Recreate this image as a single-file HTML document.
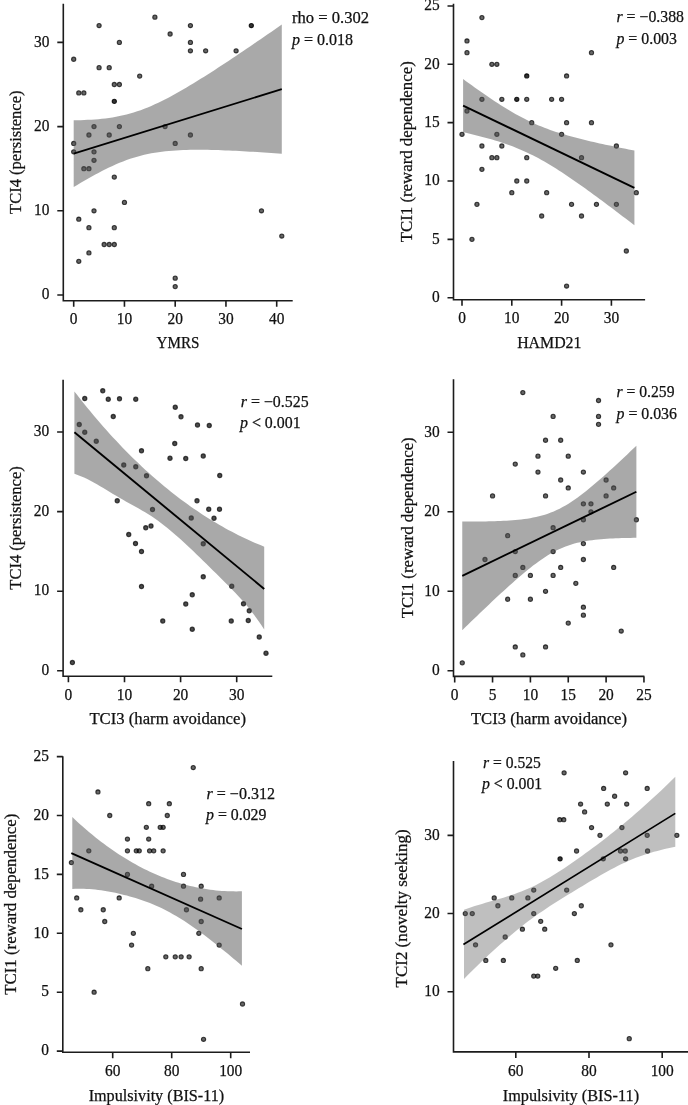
<!DOCTYPE html><html><head><meta charset="utf-8"><title>Figure</title><style>html,body{margin:0;padding:0;background:#fff}svg{display:block}text{stroke:#111;stroke-width:.25px}</style></head><body>
<svg width="688" height="1105" viewBox="0 0 688 1105" font-family='"Liberation Serif", serif' font-size="16" fill="#111">
<rect width="688" height="1105" fill="#fff"/>
<g fill="#000" fill-opacity="0.6" stroke="#000" stroke-opacity="0.72" stroke-width="1.1"><circle cx="73.7" cy="59.24" r="2.1"/><circle cx="99.08" cy="25.56" r="2.1"/><circle cx="154.9" cy="17.14" r="2.1"/><circle cx="170.12" cy="33.98" r="2.1"/><circle cx="190.43" cy="25.56" r="2.1"/><circle cx="190.43" cy="42.4" r="2.1"/><circle cx="190.43" cy="50.82" r="2.1"/><circle cx="205.65" cy="50.82" r="2.1"/><circle cx="236.1" cy="50.82" r="2.1"/><circle cx="119.38" cy="42.4" r="2.1"/><circle cx="99.08" cy="67.66" r="2.1"/><circle cx="109.22" cy="67.66" r="2.1"/><circle cx="139.68" cy="76.08" r="2.1"/><circle cx="114.3" cy="84.5" r="2.1"/><circle cx="119.38" cy="84.5" r="2.1"/><circle cx="78.78" cy="92.92" r="2.1"/><circle cx="83.85" cy="92.92" r="2.1"/><circle cx="94" cy="126.6" r="2.1"/><circle cx="119.38" cy="126.6" r="2.1"/><circle cx="165.05" cy="126.6" r="2.1"/><circle cx="88.93" cy="135.02" r="2.1"/><circle cx="109.22" cy="135.02" r="2.1"/><circle cx="190.43" cy="135.02" r="2.1"/><circle cx="73.7" cy="143.44" r="2.1"/><circle cx="175.2" cy="143.44" r="2.1"/><circle cx="73.7" cy="151.86" r="2.1"/><circle cx="94" cy="151.86" r="2.1"/><circle cx="94" cy="160.28" r="2.1"/><circle cx="83.85" cy="168.7" r="2.1"/><circle cx="88.93" cy="168.7" r="2.1"/><circle cx="114.3" cy="177.12" r="2.1"/><circle cx="124.45" cy="202.38" r="2.1"/><circle cx="94" cy="210.8" r="2.1"/><circle cx="261.48" cy="210.8" r="2.1"/><circle cx="78.78" cy="219.22" r="2.1"/><circle cx="88.93" cy="227.64" r="2.1"/><circle cx="114.3" cy="227.64" r="2.1"/><circle cx="281.78" cy="236.06" r="2.1"/><circle cx="104.15" cy="244.48" r="2.1"/><circle cx="109.22" cy="244.48" r="2.1"/><circle cx="114.3" cy="244.48" r="2.1"/><circle cx="88.93" cy="252.9" r="2.1"/><circle cx="78.78" cy="261.32" r="2.1"/><circle cx="175.2" cy="278.16" r="2.1"/><circle cx="175.2" cy="286.58" r="2.1"/></g><g fill="#000" fill-opacity="0.8" stroke="#000" stroke-opacity="0.85" stroke-width="1.1"><circle cx="251.32" cy="25.56" r="2.1"/><circle cx="114.3" cy="101.34" r="2.1"/></g>
<path d="M73.7 120.26 L77.23 120.21 L80.75 120.13 L84.28 120.02 L87.81 119.87 L91.33 119.68 L94.86 119.45 L98.39 119.16 L101.91 118.82 L105.44 118.42 L108.97 117.95 L112.49 117.41 L116.02 116.8 L119.55 116.11 L123.07 115.34 L126.6 114.48 L130.13 113.53 L133.65 112.49 L137.18 111.36 L140.71 110.13 L144.23 108.82 L147.76 107.41 L151.29 105.93 L154.81 104.36 L158.34 102.72 L161.87 101.01 L165.39 99.23 L168.92 97.4 L172.45 95.5 L175.97 93.56 L179.5 91.57 L183.03 89.54 L186.55 87.47 L190.08 85.36 L193.61 83.23 L197.13 81.06 L200.66 78.87 L204.19 76.65 L207.71 74.41 L211.24 72.16 L214.77 69.88 L218.29 67.59 L221.82 65.28 L225.35 62.96 L228.87 60.63 L232.4 58.28 L235.93 55.92 L239.45 53.56 L242.98 51.18 L246.51 48.8 L250.03 46.41 L253.56 44.01 L257.09 41.6 L260.61 39.19 L264.14 36.77 L267.67 34.35 L271.19 31.92 L274.72 29.48 L278.25 27.04 L281.78 24.6 L281.78 153.76 L278.25 153.5 L274.72 153.25 L271.19 153 L267.67 152.76 L264.14 152.52 L260.61 152.29 L257.09 152.06 L253.56 151.84 L250.03 151.63 L246.51 151.42 L242.98 151.23 L239.45 151.04 L235.93 150.86 L232.4 150.69 L228.87 150.53 L225.35 150.38 L221.82 150.24 L218.29 150.12 L214.77 150.02 L211.24 149.93 L207.71 149.85 L204.19 149.8 L200.66 149.77 L197.13 149.77 L193.61 149.79 L190.08 149.84 L186.55 149.92 L183.03 150.03 L179.5 150.19 L175.97 150.38 L172.45 150.63 L168.92 150.92 L165.39 151.27 L161.87 151.68 L158.34 152.15 L154.81 152.7 L151.29 153.32 L147.76 154.02 L144.23 154.8 L140.71 155.67 L137.18 156.64 L133.65 157.69 L130.13 158.83 L126.6 160.07 L123.07 161.39 L119.55 162.81 L116.02 164.3 L112.49 165.88 L108.97 167.53 L105.44 169.25 L101.91 171.03 L98.39 172.88 L94.86 174.78 L91.33 176.73 L87.81 178.72 L84.28 180.76 L80.75 182.83 L77.23 184.94 L73.7 187.08Z" fill="#545454" fill-opacity="0.5"/>
<line x1="73.7" y1="153.67" x2="281.78" y2="89.18" stroke="#000" stroke-width="1.75"/>
<path d="M63.3 3.7V300.7H292.7" fill="none" stroke="#1c1c1c" stroke-width="1.6"/>
<path d="M73.7 300.7v6M124.45 300.7v6M175.2 300.7v6M225.95 300.7v6M276.7 300.7v6M63.3 295h-6M63.3 210.8h-6M63.3 126.6h-6M63.3 42.4h-6" fill="none" stroke="#1c1c1c" stroke-width="1.6"/>
<text x="73.7" y="323.6" text-anchor="middle" textLength="7.7" lengthAdjust="spacingAndGlyphs">0</text>
<text x="124.45" y="323.6" text-anchor="middle" textLength="15.4" lengthAdjust="spacingAndGlyphs">10</text>
<text x="175.2" y="323.6" text-anchor="middle" textLength="15.4" lengthAdjust="spacingAndGlyphs">20</text>
<text x="225.95" y="323.6" text-anchor="middle" textLength="15.4" lengthAdjust="spacingAndGlyphs">30</text>
<text x="276.7" y="323.6" text-anchor="middle" textLength="15.4" lengthAdjust="spacingAndGlyphs">40</text>
<text x="49.4" y="299.2" text-anchor="end" textLength="7.7" lengthAdjust="spacingAndGlyphs">0</text>
<text x="49.4" y="215" text-anchor="end" textLength="15.4" lengthAdjust="spacingAndGlyphs">10</text>
<text x="49.4" y="130.8" text-anchor="end" textLength="15.4" lengthAdjust="spacingAndGlyphs">20</text>
<text x="49.4" y="46.6" text-anchor="end" textLength="15.4" lengthAdjust="spacingAndGlyphs">30</text>
<text x="178" y="348.3" text-anchor="middle" textLength="42.8" lengthAdjust="spacingAndGlyphs">YMRS</text>
<g transform="translate(21.1 152.2) rotate(-90)"><text x="0" y="0" text-anchor="middle" textLength="123.5" lengthAdjust="spacingAndGlyphs">TCI4 (persistence)</text></g>
<text x="292" y="23" text-anchor="start" textLength="77" lengthAdjust="spacingAndGlyphs">rho = 0.302</text>
<text x="292" y="45" text-anchor="start" textLength="61.1" lengthAdjust="spacingAndGlyphs"><tspan font-style="italic">p</tspan> = 0.018</text>
<g fill="#000" fill-opacity="0.6" stroke="#000" stroke-opacity="0.72" stroke-width="1.1"><circle cx="481.92" cy="17.62" r="2.1"/><circle cx="466.98" cy="40.96" r="2.1"/><circle cx="466.98" cy="52.63" r="2.1"/><circle cx="591.48" cy="52.63" r="2.1"/><circle cx="491.88" cy="64.3" r="2.1"/><circle cx="496.86" cy="64.3" r="2.1"/><circle cx="566.58" cy="75.97" r="2.1"/><circle cx="481.92" cy="99.31" r="2.1"/><circle cx="501.84" cy="99.31" r="2.1"/><circle cx="526.74" cy="99.31" r="2.1"/><circle cx="551.64" cy="99.31" r="2.1"/><circle cx="561.6" cy="99.31" r="2.1"/><circle cx="466.98" cy="110.98" r="2.1"/><circle cx="531.72" cy="122.65" r="2.1"/><circle cx="566.58" cy="122.65" r="2.1"/><circle cx="591.48" cy="122.65" r="2.1"/><circle cx="462" cy="134.32" r="2.1"/><circle cx="496.86" cy="134.32" r="2.1"/><circle cx="561.6" cy="134.32" r="2.1"/><circle cx="481.92" cy="145.99" r="2.1"/><circle cx="501.84" cy="145.99" r="2.1"/><circle cx="616.38" cy="145.99" r="2.1"/><circle cx="491.88" cy="157.66" r="2.1"/><circle cx="496.86" cy="157.66" r="2.1"/><circle cx="526.74" cy="157.66" r="2.1"/><circle cx="581.52" cy="157.66" r="2.1"/><circle cx="481.92" cy="169.33" r="2.1"/><circle cx="516.78" cy="181" r="2.1"/><circle cx="526.74" cy="181" r="2.1"/><circle cx="511.8" cy="192.67" r="2.1"/><circle cx="546.66" cy="192.67" r="2.1"/><circle cx="636.3" cy="192.67" r="2.1"/><circle cx="476.94" cy="204.34" r="2.1"/><circle cx="571.56" cy="204.34" r="2.1"/><circle cx="596.46" cy="204.34" r="2.1"/><circle cx="616.38" cy="204.34" r="2.1"/><circle cx="541.68" cy="216.01" r="2.1"/><circle cx="581.52" cy="216.01" r="2.1"/><circle cx="471.96" cy="239.35" r="2.1"/><circle cx="626.34" cy="251.02" r="2.1"/><circle cx="566.58" cy="286.03" r="2.1"/></g><g fill="#000" fill-opacity="0.8" stroke="#000" stroke-opacity="0.85" stroke-width="1.1"><circle cx="526.74" cy="75.97" r="2.1"/><circle cx="516.78" cy="99.31" r="2.1"/></g>
<path d="M463.1 79 L466 81.13 L468.91 83.24 L471.81 85.34 L474.71 87.42 L477.62 89.48 L480.52 91.53 L483.42 93.56 L486.33 95.56 L489.23 97.55 L492.13 99.5 L495.04 101.43 L497.94 103.33 L500.84 105.19 L503.75 107.02 L506.65 108.81 L509.55 110.56 L512.46 112.27 L515.36 113.93 L518.26 115.54 L521.17 117.1 L524.07 118.62 L526.97 120.07 L529.88 121.48 L532.78 122.83 L535.68 124.13 L538.59 125.38 L541.49 126.58 L544.39 127.73 L547.3 128.83 L550.2 129.89 L553.11 130.91 L556.01 131.88 L558.91 132.82 L561.82 133.73 L564.72 134.6 L567.62 135.45 L570.53 136.27 L573.43 137.06 L576.33 137.83 L579.24 138.59 L582.14 139.32 L585.04 140.03 L587.95 140.73 L590.85 141.41 L593.75 142.08 L596.66 142.74 L599.56 143.39 L602.46 144.02 L605.37 144.65 L608.27 145.26 L611.17 145.87 L614.08 146.47 L616.98 147.06 L619.88 147.65 L622.79 148.23 L625.69 148.81 L628.59 149.38 L631.5 149.94 L634.4 150.5 L634.4 225.3 L631.5 223.07 L628.59 220.84 L625.69 218.62 L622.79 216.41 L619.88 214.2 L616.98 212 L614.08 209.8 L611.17 207.61 L608.27 205.43 L605.37 203.26 L602.46 201.09 L599.56 198.94 L596.66 196.79 L593.75 194.66 L590.85 192.54 L587.95 190.43 L585.04 188.34 L582.14 186.27 L579.24 184.21 L576.33 182.17 L573.43 180.15 L570.53 178.15 L567.62 176.18 L564.72 174.24 L561.82 172.32 L558.91 170.44 L556.01 168.59 L553.11 166.78 L550.2 165.01 L547.3 163.27 L544.39 161.59 L541.49 159.95 L538.59 158.35 L535.68 156.81 L532.78 155.32 L529.88 153.89 L526.97 152.5 L524.07 151.17 L521.17 149.89 L518.26 148.67 L515.36 147.49 L512.46 146.36 L509.55 145.28 L506.65 144.24 L503.75 143.24 L500.84 142.28 L497.94 141.35 L495.04 140.46 L492.13 139.6 L489.23 138.76 L486.33 137.95 L483.42 137.17 L480.52 136.41 L477.62 135.66 L474.71 134.94 L471.81 134.23 L468.91 133.54 L466 132.86 L463.1 132.2Z" fill="#545454" fill-opacity="0.5"/>
<line x1="463.1" y1="105.6" x2="634.4" y2="187.9" stroke="#000" stroke-width="1.9"/>
<path d="M453.5 3.7V299.8H645.1" fill="none" stroke="#1c1c1c" stroke-width="1.6"/>
<path d="M462 299.8v6M511.8 299.8v6M561.6 299.8v6M611.4 299.8v6M453.5 297.7h-6M453.5 239.35h-6M453.5 181h-6M453.5 122.65h-6M453.5 64.3h-6M453.5 5.95h-6" fill="none" stroke="#1c1c1c" stroke-width="1.6"/>
<text x="462" y="323.2" text-anchor="middle" textLength="7.7" lengthAdjust="spacingAndGlyphs">0</text>
<text x="511.8" y="323.2" text-anchor="middle" textLength="15.4" lengthAdjust="spacingAndGlyphs">10</text>
<text x="561.6" y="323.2" text-anchor="middle" textLength="15.4" lengthAdjust="spacingAndGlyphs">20</text>
<text x="611.4" y="323.2" text-anchor="middle" textLength="15.4" lengthAdjust="spacingAndGlyphs">30</text>
<text x="439.6" y="301.9" text-anchor="end" textLength="7.7" lengthAdjust="spacingAndGlyphs">0</text>
<text x="439.6" y="243.55" text-anchor="end" textLength="7.7" lengthAdjust="spacingAndGlyphs">5</text>
<text x="439.6" y="185.2" text-anchor="end" textLength="15.4" lengthAdjust="spacingAndGlyphs">10</text>
<text x="439.6" y="126.85" text-anchor="end" textLength="15.4" lengthAdjust="spacingAndGlyphs">15</text>
<text x="439.6" y="68.5" text-anchor="end" textLength="15.4" lengthAdjust="spacingAndGlyphs">20</text>
<text x="439.6" y="10.15" text-anchor="end" textLength="15.4" lengthAdjust="spacingAndGlyphs">25</text>
<text x="549.3" y="348" text-anchor="middle" textLength="64.3" lengthAdjust="spacingAndGlyphs">HAMD21</text>
<g transform="translate(412.2 151.75) rotate(-90)"><text x="0" y="0" text-anchor="middle" textLength="181" lengthAdjust="spacingAndGlyphs">TCI1 (reward dependence)</text></g>
<text x="616.5" y="21.6" text-anchor="start" textLength="67.5" lengthAdjust="spacingAndGlyphs"><tspan font-style="italic">r</tspan> = −0.388</text>
<text x="616.5" y="43.6" text-anchor="start" textLength="60.4" lengthAdjust="spacingAndGlyphs"><tspan font-style="italic">p</tspan> = 0.003</text>
<g fill="#000" fill-opacity="0.7" stroke="#000" stroke-opacity="0.72" stroke-width="1.1"><circle cx="72.4" cy="662.5" r="2.1"/><circle cx="84.75" cy="398.5" r="2.1"/><circle cx="102.75" cy="390.75" r="2.1"/><circle cx="108.25" cy="399.25" r="2.1"/><circle cx="119.5" cy="398.75" r="2.1"/><circle cx="135.75" cy="399.25" r="2.1"/><circle cx="113.25" cy="416.5" r="2.1"/><circle cx="79.25" cy="424.5" r="2.1"/><circle cx="84.75" cy="432.25" r="2.1"/><circle cx="96.25" cy="441.25" r="2.1"/><circle cx="175.25" cy="407.25" r="2.1"/><circle cx="181" cy="416.75" r="2.1"/><circle cx="197.5" cy="425" r="2.1"/><circle cx="209.25" cy="425.5" r="2.1"/><circle cx="174.75" cy="443.5" r="2.1"/><circle cx="141.5" cy="450.75" r="2.1"/><circle cx="170" cy="458.25" r="2.1"/><circle cx="185.75" cy="458.5" r="2.1"/><circle cx="203.25" cy="456" r="2.1"/><circle cx="123.75" cy="465" r="2.1"/><circle cx="135.75" cy="466.75" r="2.1"/><circle cx="146.5" cy="475.75" r="2.1"/><circle cx="219.75" cy="475.5" r="2.1"/><circle cx="117.25" cy="500.75" r="2.1"/><circle cx="197" cy="500.75" r="2.1"/><circle cx="152.5" cy="509.5" r="2.1"/><circle cx="208.75" cy="509.25" r="2.1"/><circle cx="219.5" cy="509.25" r="2.1"/><circle cx="214" cy="518.25" r="2.1"/><circle cx="191.25" cy="518" r="2.1"/><circle cx="145.75" cy="527.75" r="2.1"/><circle cx="151" cy="526" r="2.1"/><circle cx="128.75" cy="534.5" r="2.1"/><circle cx="135.5" cy="543.5" r="2.1"/><circle cx="141.5" cy="551.5" r="2.1"/><circle cx="203.25" cy="543.75" r="2.1"/><circle cx="203.25" cy="576.75" r="2.1"/><circle cx="231.75" cy="586.25" r="2.1"/><circle cx="192.25" cy="594.75" r="2.1"/><circle cx="185.75" cy="604" r="2.1"/><circle cx="243.5" cy="603.75" r="2.1"/><circle cx="249.25" cy="610.75" r="2.1"/><circle cx="162.75" cy="621" r="2.1"/><circle cx="231.25" cy="621" r="2.1"/><circle cx="248.25" cy="620.5" r="2.1"/><circle cx="192.25" cy="629.25" r="2.1"/><circle cx="259.25" cy="637" r="2.1"/><circle cx="266" cy="653.25" r="2.1"/><circle cx="141.5" cy="586.5" r="2.1"/></g>
<path d="M74.4 391.43 L77.62 395.58 L80.83 399.66 L84.05 403.69 L87.27 407.67 L90.48 411.58 L93.7 415.44 L96.92 419.24 L100.14 422.98 L103.35 426.67 L106.57 430.3 L109.79 433.88 L113 437.4 L116.22 440.86 L119.44 444.27 L122.65 447.63 L125.87 450.93 L129.09 454.18 L132.31 457.38 L135.52 460.52 L138.74 463.61 L141.96 466.65 L145.17 469.63 L148.39 472.57 L151.61 475.45 L154.82 478.28 L158.04 481.06 L161.26 483.79 L164.47 486.48 L167.69 489.11 L170.91 491.69 L174.13 494.22 L177.34 496.71 L180.56 499.14 L183.78 501.53 L186.99 503.87 L190.21 506.17 L193.43 508.41 L196.64 510.62 L199.86 512.77 L203.08 514.88 L206.29 516.94 L209.51 518.96 L212.73 520.93 L215.95 522.86 L219.16 524.74 L222.38 526.58 L225.6 528.38 L228.81 530.13 L232.03 531.84 L235.25 533.51 L238.46 535.14 L241.68 536.72 L244.9 538.27 L248.12 539.77 L251.33 541.23 L254.55 542.65 L257.77 544.03 L260.98 545.37 L264.2 546.67 L264.2 629.56 L260.98 624.59 L257.77 619.89 L254.55 615.44 L251.33 611.21 L248.12 607.19 L244.9 603.35 L241.68 599.67 L238.46 596.13 L235.25 592.71 L232.03 589.38 L228.81 586.12 L225.6 582.91 L222.38 579.73 L219.16 576.56 L215.95 573.37 L212.73 570.19 L209.51 567 L206.29 563.82 L203.08 560.66 L199.86 557.51 L196.64 554.38 L193.43 551.29 L190.21 548.23 L186.99 545.21 L183.78 542.23 L180.56 539.31 L177.34 536.45 L174.13 533.65 L170.91 530.92 L167.69 528.27 L164.47 525.69 L161.26 523.21 L158.04 520.81 L154.82 518.52 L151.61 516.34 L148.39 514.27 L145.17 512.3 L141.96 510.42 L138.74 508.6 L135.52 506.81 L132.31 505.05 L129.09 503.27 L125.87 501.46 L122.65 499.62 L119.44 497.74 L116.22 495.84 L113 493.91 L109.79 491.96 L106.57 490 L103.35 488.06 L100.14 486.15 L96.92 484.28 L93.7 482.47 L90.48 480.74 L87.27 479.1 L84.05 477.56 L80.83 476.15 L77.62 474.88 L74.4 473.77Z" fill="#545454" fill-opacity="0.5"/>
<line x1="74.4" y1="432.3" x2="264.2" y2="588.9" stroke="#000" stroke-width="1.9"/>
<path d="M63.1 379.7V676.2H272.3" fill="none" stroke="#1c1c1c" stroke-width="1.6"/>
<path d="M68.4 676.2v6M124.5 676.2v6M180.6 676.2v6M236.7 676.2v6M63.1 670.8h-6M63.1 591.2h-6M63.1 511.6h-6M63.1 432h-6" fill="none" stroke="#1c1c1c" stroke-width="1.6"/>
<text x="68.4" y="700.1" text-anchor="middle" textLength="7.7" lengthAdjust="spacingAndGlyphs">0</text>
<text x="124.5" y="700.1" text-anchor="middle" textLength="15.4" lengthAdjust="spacingAndGlyphs">10</text>
<text x="180.6" y="700.1" text-anchor="middle" textLength="15.4" lengthAdjust="spacingAndGlyphs">20</text>
<text x="236.7" y="700.1" text-anchor="middle" textLength="15.4" lengthAdjust="spacingAndGlyphs">30</text>
<text x="49.2" y="675" text-anchor="end" textLength="7.7" lengthAdjust="spacingAndGlyphs">0</text>
<text x="49.2" y="595.4" text-anchor="end" textLength="15.4" lengthAdjust="spacingAndGlyphs">10</text>
<text x="49.2" y="515.8" text-anchor="end" textLength="15.4" lengthAdjust="spacingAndGlyphs">20</text>
<text x="49.2" y="436.2" text-anchor="end" textLength="15.4" lengthAdjust="spacingAndGlyphs">30</text>
<text x="167.7" y="724" text-anchor="middle" textLength="156.5" lengthAdjust="spacingAndGlyphs">TCI3 (harm avoidance)</text>
<g transform="translate(21.1 527.95) rotate(-90)"><text x="0" y="0" text-anchor="middle" textLength="123.5" lengthAdjust="spacingAndGlyphs">TCI4 (persistence)</text></g>
<text x="240.8" y="407" text-anchor="start" textLength="67.8" lengthAdjust="spacingAndGlyphs"><tspan font-style="italic">r</tspan> = −0.525</text>
<text x="240" y="428.4" text-anchor="start" textLength="60.6" lengthAdjust="spacingAndGlyphs"><tspan font-style="italic">p</tspan> &lt; 0.001</text>
<g fill="#000" fill-opacity="0.6" stroke="#000" stroke-opacity="0.72" stroke-width="1.1"><circle cx="462.27" cy="662.85" r="2.1"/><circle cx="522.83" cy="392.55" r="2.1"/><circle cx="598.53" cy="400.5" r="2.1"/><circle cx="553.11" cy="416.4" r="2.1"/><circle cx="598.53" cy="416.4" r="2.1"/><circle cx="598.53" cy="424.35" r="2.1"/><circle cx="545.54" cy="440.25" r="2.1"/><circle cx="560.68" cy="440.25" r="2.1"/><circle cx="537.97" cy="456.15" r="2.1"/><circle cx="568.25" cy="456.15" r="2.1"/><circle cx="515.26" cy="464.1" r="2.1"/><circle cx="537.97" cy="472.05" r="2.1"/><circle cx="583.39" cy="472.05" r="2.1"/><circle cx="560.68" cy="480" r="2.1"/><circle cx="606.1" cy="480" r="2.1"/><circle cx="568.25" cy="487.95" r="2.1"/><circle cx="613.67" cy="487.95" r="2.1"/><circle cx="492.55" cy="495.9" r="2.1"/><circle cx="545.54" cy="495.9" r="2.1"/><circle cx="606.1" cy="495.9" r="2.1"/><circle cx="583.39" cy="503.85" r="2.1"/><circle cx="590.96" cy="503.85" r="2.1"/><circle cx="590.96" cy="511.8" r="2.1"/><circle cx="583.39" cy="519.75" r="2.1"/><circle cx="636.38" cy="519.75" r="2.1"/><circle cx="553.11" cy="527.7" r="2.1"/><circle cx="507.69" cy="535.65" r="2.1"/><circle cx="583.39" cy="543.6" r="2.1"/><circle cx="515.26" cy="551.55" r="2.1"/><circle cx="553.11" cy="551.55" r="2.1"/><circle cx="484.98" cy="559.5" r="2.1"/><circle cx="583.39" cy="559.5" r="2.1"/><circle cx="522.83" cy="567.45" r="2.1"/><circle cx="560.68" cy="567.45" r="2.1"/><circle cx="613.67" cy="567.45" r="2.1"/><circle cx="515.26" cy="575.4" r="2.1"/><circle cx="530.4" cy="575.4" r="2.1"/><circle cx="553.11" cy="575.4" r="2.1"/><circle cx="575.82" cy="583.35" r="2.1"/><circle cx="545.54" cy="591.3" r="2.1"/><circle cx="507.69" cy="599.25" r="2.1"/><circle cx="530.4" cy="599.25" r="2.1"/><circle cx="583.39" cy="607.2" r="2.1"/><circle cx="583.39" cy="615.15" r="2.1"/><circle cx="568.25" cy="623.1" r="2.1"/><circle cx="621.24" cy="631.05" r="2.1"/><circle cx="515.26" cy="646.95" r="2.1"/><circle cx="545.54" cy="646.95" r="2.1"/><circle cx="522.83" cy="654.9" r="2.1"/></g>
<path d="M462.27 521.47 L465.22 521.48 L468.17 521.5 L471.12 521.5 L474.07 521.5 L477.03 521.49 L479.98 521.47 L482.93 521.44 L485.88 521.4 L488.83 521.35 L491.78 521.28 L494.73 521.2 L497.68 521.1 L500.63 520.98 L503.58 520.84 L506.54 520.68 L509.49 520.49 L512.44 520.28 L515.39 520.03 L518.34 519.75 L521.29 519.42 L524.24 519.06 L527.19 518.64 L530.14 518.16 L533.09 517.62 L536.05 517.01 L539 516.32 L541.95 515.54 L544.9 514.67 L547.85 513.7 L550.8 512.61 L553.75 511.42 L556.7 510.1 L559.65 508.66 L562.6 507.11 L565.56 505.43 L568.51 503.65 L571.46 501.75 L574.41 499.76 L577.36 497.67 L580.31 495.49 L583.26 493.24 L586.21 490.92 L589.16 488.54 L592.11 486.1 L595.07 483.61 L598.02 481.07 L600.97 478.5 L603.92 475.89 L606.87 473.25 L609.82 470.59 L612.77 467.89 L615.72 465.18 L618.67 462.44 L621.62 459.69 L624.58 456.92 L627.53 454.14 L630.48 451.34 L633.43 448.53 L636.38 445.71 L636.38 537.82 L633.43 537.85 L630.48 537.89 L627.53 537.94 L624.58 538 L621.62 538.08 L618.67 538.18 L615.72 538.29 L612.77 538.43 L609.82 538.58 L606.87 538.76 L603.92 538.97 L600.97 539.21 L598.02 539.49 L595.07 539.81 L592.11 540.16 L589.16 540.57 L586.21 541.04 L583.26 541.57 L580.31 542.16 L577.36 542.84 L574.41 543.6 L571.46 544.45 L568.51 545.41 L565.56 546.47 L562.6 547.64 L559.65 548.94 L556.7 550.35 L553.75 551.88 L550.8 553.53 L547.85 555.3 L544.9 557.18 L541.95 559.15 L539 561.23 L536.05 563.38 L533.09 565.62 L530.14 567.93 L527.19 570.3 L524.24 572.73 L521.29 575.21 L518.34 577.74 L515.39 580.3 L512.44 582.91 L509.49 585.54 L506.54 588.2 L503.58 590.89 L500.63 593.6 L497.68 596.33 L494.73 599.08 L491.78 601.85 L488.83 604.63 L485.88 607.43 L482.93 610.23 L479.98 613.05 L477.03 615.88 L474.07 618.72 L471.12 621.57 L468.17 624.42 L465.22 627.28 L462.27 630.15Z" fill="#545454" fill-opacity="0.5"/>
<line x1="462.27" y1="575.81" x2="636.38" y2="491.76" stroke="#000" stroke-width="1.9"/>
<path d="M453.5 379.2V676.4H644.4" fill="none" stroke="#1c1c1c" stroke-width="1.6"/>
<path d="M454.7 676.4v6M492.55 676.4v6M530.4 676.4v6M568.25 676.4v6M606.1 676.4v6M643.95 676.4v6M453.5 670.8h-6M453.5 591.3h-6M453.5 511.8h-6M453.5 432.3h-6" fill="none" stroke="#1c1c1c" stroke-width="1.6"/>
<text x="454.7" y="699.9" text-anchor="middle" textLength="7.7" lengthAdjust="spacingAndGlyphs">0</text>
<text x="492.55" y="699.9" text-anchor="middle" textLength="7.7" lengthAdjust="spacingAndGlyphs">5</text>
<text x="530.4" y="699.9" text-anchor="middle" textLength="15.4" lengthAdjust="spacingAndGlyphs">10</text>
<text x="568.25" y="699.9" text-anchor="middle" textLength="15.4" lengthAdjust="spacingAndGlyphs">15</text>
<text x="606.1" y="699.9" text-anchor="middle" textLength="15.4" lengthAdjust="spacingAndGlyphs">20</text>
<text x="643.95" y="699.9" text-anchor="middle" textLength="15.4" lengthAdjust="spacingAndGlyphs">25</text>
<text x="439.6" y="675" text-anchor="end" textLength="7.7" lengthAdjust="spacingAndGlyphs">0</text>
<text x="439.6" y="595.5" text-anchor="end" textLength="15.4" lengthAdjust="spacingAndGlyphs">10</text>
<text x="439.6" y="516" text-anchor="end" textLength="15.4" lengthAdjust="spacingAndGlyphs">20</text>
<text x="439.6" y="436.5" text-anchor="end" textLength="15.4" lengthAdjust="spacingAndGlyphs">30</text>
<text x="548.95" y="723.6" text-anchor="middle" textLength="156" lengthAdjust="spacingAndGlyphs">TCI3 (harm avoidance)</text>
<g transform="translate(412.6 527.8) rotate(-90)"><text x="0" y="0" text-anchor="middle" textLength="181" lengthAdjust="spacingAndGlyphs">TCI1 (reward dependence)</text></g>
<text x="616.5" y="397.2" text-anchor="start" textLength="58" lengthAdjust="spacingAndGlyphs"><tspan font-style="italic">r</tspan> = 0.259</text>
<text x="616.5" y="419" text-anchor="start" textLength="60.5" lengthAdjust="spacingAndGlyphs"><tspan font-style="italic">p</tspan> = 0.036</text>
<g fill="#000" fill-opacity="0.6" stroke="#000" stroke-opacity="0.72" stroke-width="1.1"><circle cx="71.4" cy="862.62" r="2.1"/><circle cx="193.24" cy="767.56" r="2.1"/><circle cx="97.95" cy="791.94" r="2.1"/><circle cx="148.69" cy="803.72" r="2.1"/><circle cx="169.34" cy="803.72" r="2.1"/><circle cx="109.75" cy="815.5" r="2.1"/><circle cx="167.28" cy="815.5" r="2.1"/><circle cx="146.33" cy="827.28" r="2.1"/><circle cx="160.19" cy="827.28" r="2.1"/><circle cx="163.14" cy="827.28" r="2.1"/><circle cx="127.45" cy="839.06" r="2.1"/><circle cx="148.69" cy="839.06" r="2.1"/><circle cx="88.81" cy="850.84" r="2.1"/><circle cx="127.45" cy="850.84" r="2.1"/><circle cx="136.3" cy="850.84" r="2.1"/><circle cx="139.25" cy="850.84" r="2.1"/><circle cx="149.57" cy="850.84" r="2.1"/><circle cx="153.71" cy="850.84" r="2.1"/><circle cx="163.14" cy="850.84" r="2.1"/><circle cx="127.45" cy="874.4" r="2.1"/><circle cx="183.5" cy="874.4" r="2.1"/><circle cx="151.64" cy="886.18" r="2.1"/><circle cx="183.5" cy="886.18" r="2.1"/><circle cx="201.2" cy="886.18" r="2.1"/><circle cx="76.71" cy="897.96" r="2.1"/><circle cx="119.19" cy="897.96" r="2.1"/><circle cx="200.61" cy="899.14" r="2.1"/><circle cx="219.19" cy="897.96" r="2.1"/><circle cx="80.84" cy="909.74" r="2.1"/><circle cx="103.26" cy="909.74" r="2.1"/><circle cx="186.45" cy="909.74" r="2.1"/><circle cx="104.73" cy="921.52" r="2.1"/><circle cx="201.2" cy="921.52" r="2.1"/><circle cx="133.35" cy="933.3" r="2.1"/><circle cx="198.84" cy="933.3" r="2.1"/><circle cx="131.58" cy="945.08" r="2.1"/><circle cx="219.19" cy="945.08" r="2.1"/><circle cx="165.8" cy="956.86" r="2.1"/><circle cx="175.24" cy="956.86" r="2.1"/><circle cx="181.14" cy="956.86" r="2.1"/><circle cx="189.11" cy="956.86" r="2.1"/><circle cx="147.81" cy="968.64" r="2.1"/><circle cx="201.2" cy="968.64" r="2.1"/><circle cx="94.12" cy="992.2" r="2.1"/><circle cx="242.5" cy="1003.98" r="2.1"/><circle cx="203.56" cy="1039.32" r="2.1"/></g>
<path d="M72.3 817.08 L75.17 819.78 L78.05 822.42 L80.92 825.01 L83.8 827.54 L86.67 830.03 L89.55 832.46 L92.42 834.83 L95.3 837.16 L98.17 839.43 L101.05 841.65 L103.92 843.82 L106.79 845.94 L109.67 848.01 L112.54 850.03 L115.42 851.99 L118.29 853.91 L121.17 855.77 L124.04 857.59 L126.92 859.35 L129.79 861.07 L132.67 862.73 L135.54 864.35 L138.42 865.91 L141.29 867.43 L144.16 868.9 L147.04 870.32 L149.91 871.69 L152.79 873.02 L155.66 874.29 L158.54 875.52 L161.41 876.7 L164.29 877.84 L167.16 878.92 L170.04 879.96 L172.91 880.95 L175.78 881.9 L178.66 882.8 L181.53 883.65 L184.41 884.46 L187.28 885.22 L190.16 885.94 L193.03 886.61 L195.91 887.24 L198.78 887.82 L201.66 888.36 L204.53 888.85 L207.41 889.3 L210.28 889.7 L213.15 890.06 L216.03 890.38 L218.9 890.65 L221.78 890.88 L224.65 891.07 L227.53 891.21 L230.4 891.31 L233.28 891.37 L236.15 891.39 L239.03 891.36 L241.9 891.3 L241.9 965.77 L239.03 963.32 L236.15 960.87 L233.28 958.44 L230.4 956.02 L227.53 953.62 L224.65 951.24 L221.78 948.88 L218.9 946.54 L216.03 944.23 L213.15 941.94 L210.28 939.69 L207.41 937.47 L204.53 935.28 L201.66 933.13 L198.78 931.02 L195.91 928.95 L193.03 926.92 L190.16 924.94 L187.28 923.01 L184.41 921.12 L181.53 919.29 L178.66 917.51 L175.78 915.79 L172.91 914.13 L170.04 912.52 L167.16 910.98 L164.29 909.51 L161.41 908.1 L158.54 906.76 L155.66 905.48 L152.79 904.26 L149.91 903.1 L147.04 901.99 L144.16 900.94 L141.29 899.94 L138.42 898.99 L135.54 898.08 L132.67 897.22 L129.79 896.4 L126.92 895.62 L124.04 894.88 L121.17 894.17 L118.29 893.5 L115.42 892.87 L112.54 892.28 L109.67 891.72 L106.79 891.21 L103.92 890.75 L101.05 890.32 L98.17 889.95 L95.3 889.62 L92.42 889.34 L89.55 889.11 L86.67 888.94 L83.8 888.82 L80.92 888.75 L78.05 888.75 L75.17 888.8 L72.3 888.91Z" fill="#545454" fill-opacity="0.5"/>
<line x1="71.3" y1="853.2" x2="241.9" y2="929" stroke="#000" stroke-width="1.9"/>
<path d="M62.8 756.2V1052.2H250" fill="none" stroke="#1c1c1c" stroke-width="1.6"/>
<path d="M112.7 1052.2v6M171.7 1052.2v6M230.7 1052.2v6M62.8 1051.1h-6M62.8 992.2h-6M62.8 933.3h-6M62.8 874.4h-6M62.8 815.5h-6M62.8 756.6h-6" fill="none" stroke="#1c1c1c" stroke-width="1.6"/>
<text x="112.7" y="1076.3" text-anchor="middle" textLength="15.4" lengthAdjust="spacingAndGlyphs">60</text>
<text x="171.7" y="1076.3" text-anchor="middle" textLength="15.4" lengthAdjust="spacingAndGlyphs">80</text>
<text x="230.7" y="1076.3" text-anchor="middle" textLength="23.1" lengthAdjust="spacingAndGlyphs">100</text>
<text x="48.9" y="1055.3" text-anchor="end" textLength="7.7" lengthAdjust="spacingAndGlyphs">0</text>
<text x="48.9" y="996.4" text-anchor="end" textLength="7.7" lengthAdjust="spacingAndGlyphs">5</text>
<text x="48.9" y="937.5" text-anchor="end" textLength="15.4" lengthAdjust="spacingAndGlyphs">10</text>
<text x="48.9" y="878.6" text-anchor="end" textLength="15.4" lengthAdjust="spacingAndGlyphs">15</text>
<text x="48.9" y="819.7" text-anchor="end" textLength="15.4" lengthAdjust="spacingAndGlyphs">20</text>
<text x="48.9" y="760.8" text-anchor="end" textLength="15.4" lengthAdjust="spacingAndGlyphs">25</text>
<text x="156.4" y="1100.5" text-anchor="middle" textLength="135.5" lengthAdjust="spacingAndGlyphs">Impulsivity (BIS-11)</text>
<g transform="translate(16.4 904.2) rotate(-90)"><text x="0" y="0" text-anchor="middle" textLength="181" lengthAdjust="spacingAndGlyphs">TCI1 (reward dependence)</text></g>
<text x="206.5" y="799" text-anchor="start" textLength="68.5" lengthAdjust="spacingAndGlyphs"><tspan font-style="italic">r</tspan> = −0.312</text>
<text x="206" y="820.2" text-anchor="start" textLength="60.5" lengthAdjust="spacingAndGlyphs"><tspan font-style="italic">p</tspan> = 0.029</text>
<g fill="#000" fill-opacity="0.6" stroke="#000" stroke-opacity="0.72" stroke-width="1.1"><circle cx="564.11" cy="772.79" r="2.1"/><circle cx="625.6" cy="772.79" r="2.1"/><circle cx="603.64" cy="788.43" r="2.1"/><circle cx="647.19" cy="788.43" r="2.1"/><circle cx="614.62" cy="796.25" r="2.1"/><circle cx="580.58" cy="804.07" r="2.1"/><circle cx="607.3" cy="804.07" r="2.1"/><circle cx="626.7" cy="804.07" r="2.1"/><circle cx="584.61" cy="811.89" r="2.1"/><circle cx="559.72" cy="819.71" r="2.1"/><circle cx="563.75" cy="819.71" r="2.1"/><circle cx="591.56" cy="827.53" r="2.1"/><circle cx="621.94" cy="827.53" r="2.1"/><circle cx="599.98" cy="835.35" r="2.1"/><circle cx="647.19" cy="835.35" r="2.1"/><circle cx="676.84" cy="835.35" r="2.1"/><circle cx="576.56" cy="850.99" r="2.1"/><circle cx="620.48" cy="850.99" r="2.1"/><circle cx="625.23" cy="850.99" r="2.1"/><circle cx="647.56" cy="850.99" r="2.1"/><circle cx="603.27" cy="858.81" r="2.1"/><circle cx="625.6" cy="858.81" r="2.1"/><circle cx="494.21" cy="897.91" r="2.1"/><circle cx="511.77" cy="897.91" r="2.1"/><circle cx="527.88" cy="897.91" r="2.1"/><circle cx="533.73" cy="890.09" r="2.1"/><circle cx="566.67" cy="890.09" r="2.1"/><circle cx="497.87" cy="905.73" r="2.1"/><circle cx="581.31" cy="905.73" r="2.1"/><circle cx="465.29" cy="913.55" r="2.1"/><circle cx="472.25" cy="913.55" r="2.1"/><circle cx="533.73" cy="913.55" r="2.1"/><circle cx="574.36" cy="913.55" r="2.1"/><circle cx="540.69" cy="921.37" r="2.1"/><circle cx="522.39" cy="929.19" r="2.1"/><circle cx="544.71" cy="929.19" r="2.1"/><circle cx="505.19" cy="937.01" r="2.1"/><circle cx="475.54" cy="944.83" r="2.1"/><circle cx="610.96" cy="944.83" r="2.1"/><circle cx="485.79" cy="960.47" r="2.1"/><circle cx="503.36" cy="960.47" r="2.1"/><circle cx="577.29" cy="960.47" r="2.1"/><circle cx="555.69" cy="968.29" r="2.1"/><circle cx="533.73" cy="976.11" r="2.1"/><circle cx="537.76" cy="976.11" r="2.1"/><circle cx="629.26" cy="1038.67" r="2.1"/></g><g fill="#000" fill-opacity="0.8" stroke="#000" stroke-opacity="0.85" stroke-width="1.1"><circle cx="560.09" cy="858.81" r="2.1"/></g>
<path d="M464 909.78 L467.58 908.47 L471.16 907.25 L474.74 906.08 L478.33 904.97 L481.91 903.9 L485.49 902.86 L489.07 901.83 L492.65 900.81 L496.23 899.77 L499.81 898.72 L503.39 897.64 L506.98 896.53 L510.56 895.37 L514.14 894.15 L517.72 892.86 L521.3 891.5 L524.88 890.06 L528.46 888.52 L532.05 886.88 L535.63 885.13 L539.21 883.29 L542.79 881.36 L546.37 879.34 L549.95 877.24 L553.53 875.07 L557.12 872.83 L560.7 870.52 L564.28 868.16 L567.86 865.75 L571.44 863.29 L575.02 860.79 L578.6 858.26 L582.18 855.7 L585.77 853.11 L589.35 850.49 L592.93 847.83 L596.51 845.15 L600.09 842.43 L603.67 839.68 L607.25 836.9 L610.84 834.08 L614.42 831.23 L618 828.34 L621.58 825.42 L625.16 822.46 L628.74 819.46 L632.32 816.42 L635.91 813.34 L639.49 810.22 L643.07 807.07 L646.65 803.87 L650.23 800.62 L653.81 797.34 L657.39 794.01 L660.97 790.64 L664.56 787.22 L668.14 783.75 L671.72 780.24 L675.3 776.69 L675.3 846.63 L671.72 847.41 L668.14 848.21 L664.56 849.06 L660.97 849.94 L657.39 850.88 L653.81 851.86 L650.23 852.91 L646.65 854.03 L643.07 855.22 L639.49 856.48 L635.91 857.83 L632.32 859.27 L628.74 860.8 L625.16 862.42 L621.58 864.11 L618 865.87 L614.42 867.7 L610.84 869.59 L607.25 871.54 L603.67 873.53 L600.09 875.56 L596.51 877.63 L592.93 879.73 L589.35 881.86 L585.77 884 L582.18 886.15 L578.6 888.32 L575.02 890.48 L571.44 892.65 L567.86 894.83 L564.28 897.03 L560.7 899.25 L557.12 901.5 L553.53 903.78 L549.95 906.1 L546.37 908.46 L542.79 910.88 L539.21 913.34 L535.63 915.87 L532.05 918.45 L528.46 921.11 L524.88 923.85 L521.3 926.65 L517.72 929.52 L514.14 932.45 L510.56 935.45 L506.98 938.51 L503.39 941.63 L499.81 944.8 L496.23 948.02 L492.65 951.29 L489.07 954.61 L485.49 957.97 L481.91 961.37 L478.33 964.81 L474.74 968.29 L471.16 971.8 L467.58 975.34 L464 978.9Z" fill="#5f5f5f" fill-opacity="0.4"/>
<line x1="463.4" y1="944.5" x2="675.3" y2="813.4" stroke="#000" stroke-width="1.7"/>
<path d="M453.5 761V1051.9H688.3" fill="none" stroke="#1c1c1c" stroke-width="1.6"/>
<path d="M515.8 1051.9v6M589 1051.9v6M662.2 1051.9v6M453.5 991.75h-6M453.5 913.55h-6M453.5 835.35h-6" fill="none" stroke="#1c1c1c" stroke-width="1.6"/>
<text x="515.8" y="1076" text-anchor="middle" textLength="15.4" lengthAdjust="spacingAndGlyphs">60</text>
<text x="589" y="1076" text-anchor="middle" textLength="15.4" lengthAdjust="spacingAndGlyphs">80</text>
<text x="662.2" y="1076" text-anchor="middle" textLength="23.1" lengthAdjust="spacingAndGlyphs">100</text>
<text x="439.6" y="995.95" text-anchor="end" textLength="15.4" lengthAdjust="spacingAndGlyphs">10</text>
<text x="439.6" y="917.75" text-anchor="end" textLength="15.4" lengthAdjust="spacingAndGlyphs">20</text>
<text x="439.6" y="839.55" text-anchor="end" textLength="15.4" lengthAdjust="spacingAndGlyphs">30</text>
<text x="570.9" y="1100.5" text-anchor="middle" textLength="136.3" lengthAdjust="spacingAndGlyphs">Impulsivity (BIS-11)</text>
<g transform="translate(406.6 908.4) rotate(-90)"><text x="0" y="0" text-anchor="middle" textLength="158" lengthAdjust="spacingAndGlyphs">TCI2 (novelty seeking)</text></g>
<text x="483" y="768" text-anchor="start" textLength="57.8" lengthAdjust="spacingAndGlyphs"><tspan font-style="italic">r</tspan> = 0.525</text>
<text x="482" y="789" text-anchor="start" textLength="60.2" lengthAdjust="spacingAndGlyphs"><tspan font-style="italic">p</tspan> &lt; 0.001</text>
</svg>
</body></html>
